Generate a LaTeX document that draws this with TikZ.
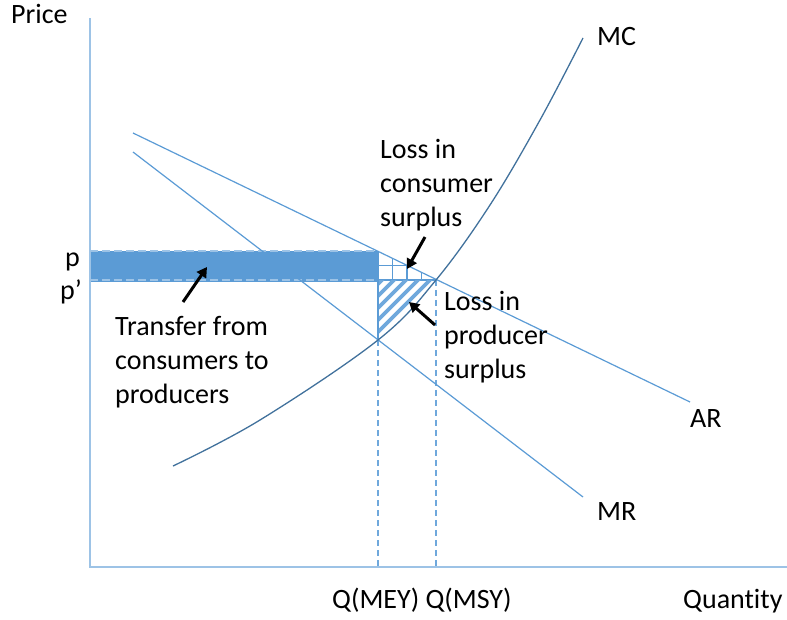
\documentclass[tikz,border=0pt]{standalone}
\usepackage{fontspec}
\setmainfont{Carlito}[Ligatures=NoCommon]
\usetikzlibrary{arrows.meta}
\definecolor{axisblue}{HTML}{9DC3E6}
\definecolor{lineblue}{HTML}{5B9BD5}
\definecolor{mcblue}{HTML}{41719C}
\definecolor{hatchblue}{HTML}{6FA8DC}
\begin{document}
\begin{tikzpicture}[x=1pt,y=-1pt,
  font=\fontsize{28}{34.2}\selectfont,
  lbl/.style={inner sep=0pt, anchor=base west, align=left},
  econline/.style={lineblue, line width=1.2pt},
  mcline/.style={mcblue, line width=1.3pt},
  axisline/.style={axisblue, line width=1.5pt},
  qdash/.style={hatchblue, line width=1.3pt, dash pattern=on 6pt off 4pt},
  pdash/.style={axisblue, line width=1.5pt, dash pattern=on 8pt off 4pt},
  ptr/.style={black, line width=3pt, -{Triangle[length=10pt,width=11pt]}}]
\useasboundingbox (0,0) rectangle (787,619);
% key points
\coordinate (ytop) at (90,18);
\coordinate (origin) at (90,567);
\coordinate (xend) at (787,567);
\coordinate (ar0) at (133,133);
\coordinate (ar1) at (690,402);
\coordinate (mr0) at (133,152);
\coordinate (mr1) at (583,497);
\coordinate (Emey) at (378,340);
\coordinate (Emsy) at (436,280);
\coordinate (Pmey) at (378,251);
\coordinate (Pp) at (378,280);
\coordinate (Ap) at (90,251);
\coordinate (App) at (90,280);
\coordinate (Qmey) at (378,567);
\coordinate (Qmsy) at (436,567);
% transfer rectangle
\fill[lineblue] (90,250.5) rectangle (379,281.5);
\draw[pdash] (Ap) -- (Pmey);
\draw[pdash] (App) -- (Pp);
% loss in consumer surplus (grid)
\begin{scope}
  \clip (Pmey) -- (Emsy) -- (Pp) -- cycle;
  \fill[white] (Pmey) -- (Emsy) -- (Pp) -- cycle;
  \foreach \gx in {392.5,407,421.5}
    \draw[lineblue, line width=1.3pt] (\gx,240) -- (\gx,290);
  \draw[lineblue, line width=1.3pt] (370,265.5) -- (440,265.5);
\end{scope}
\draw[lineblue, line width=1.3pt] (Pp) -- (Emsy);
% loss in producer surplus (hatch)
\begin{scope}
  \clip (Pp) -- (Emsy) -- (Emey) -- cycle;
  \foreach \c in {662,674,...,734}
    \draw[hatchblue, line width=3.8pt] (\c-250,250) -- (\c-360,360);
\end{scope}
\draw[lineblue, line width=1.3pt] (Pmey) -- (Emey);
% axes
\draw[axisline] (ytop) -- (origin) -- (xend);
% dashed quantity lines
\draw[qdash] (Emey) -- (Qmey);
\draw[qdash] (Emsy) -- (Qmsy);
% curves
\draw[econline] (ar0) -- (ar1);
\draw[econline] (mr0) -- (mr1);
\draw[mcline] plot[smooth, tension=0.6] coordinates {(173,466) (260,420) (378,340) (436,280) (490,205) (540,120) (583,38)};
% labels
\node[lbl] (price) at (11,23) {Price};
\node[lbl] (mc) at (597,45) {MC};
\node[lbl] (plab) at (65,266) {p};
\node[lbl] (pplab) at (60,299) {p’};
\node[lbl] (ar) at (690,427) {AR};
\node[lbl] (mr) at (597,520) {MR};
\node[lbl] (qlab) at (332,608) {Q(MEY) Q(MSY)};
\node[lbl] (quant) at (683,608) {Quantity};
\node[lbl] (transfer) at (115,403.4) {Transfer from\\consumers to\\producers};
\node[lbl] (lcs) at (380,226.4) {Loss in\\consumer\\surplus};
\node[lbl] (lps) at (444,378.4) {Loss in\\producer\\surplus};
% pointers
\coordinate (t0) at (183,302); \coordinate (t1) at (207,267);
\coordinate (c0) at (425,237); \coordinate (c1) at (407,269);
\coordinate (s0) at (435,325); \coordinate (s1) at (409,302);
\draw[ptr] (t0) -- (t1);
\draw[ptr] (c0) -- (c1);
\draw[ptr] (s0) -- (s1);
\end{tikzpicture}
\end{document}
